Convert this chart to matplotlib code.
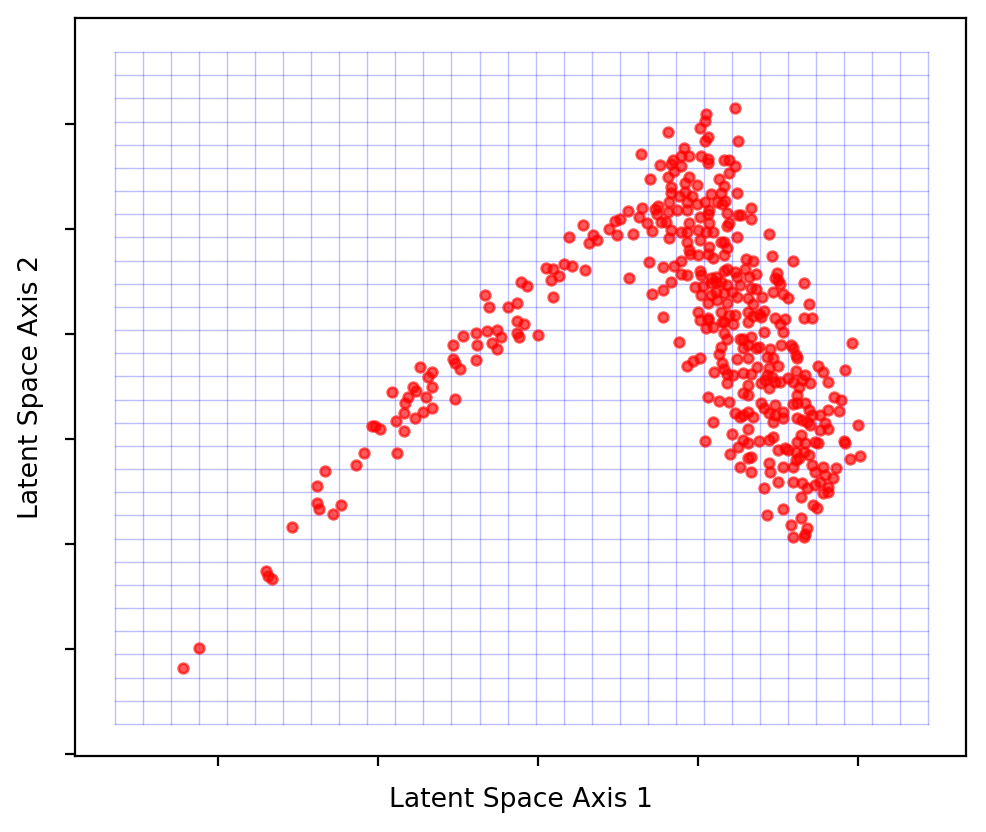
import numpy as np
import matplotlib
matplotlib.use('Agg')
import matplotlib.pyplot as plt

# latent coordinates
z1 = [-2.22, -2.12, -1.70, -1.69, -1.66, -1.54, -1.38, -1.37, -1.38, -1.33,
      -1.28, -1.23, -1.14, -1.09, -1.04, -1.02, -0.99, -0.91, -0.89, -0.88,
      -0.84, -0.84, -0.83, -0.81, -0.78, -0.77, -0.76, -0.74, -0.70, -0.69,
      -0.66, -0.66, -0.66, -0.72, -0.52, -0.53, -0.52, -0.49, -0.53, -0.47,
      -0.39, -0.39, -0.38, -0.32, -0.33, -0.31, -0.29, -0.26, -0.23, -0.26,
      -0.19, -0.13, -0.13, -0.09, -0.13, -0.12, 0.00, -0.11, -0.07, 0.05,
      0.08, 0.09, 0.13, 0.09, 0.16, 0.21, 0.29, 0.19, 0.28, 0.32,
      0.34, 0.37,
      1.23, 1.05, 1.04, 1.01, 0.81, 1.06, 1.04, 1.25, 0.91, 0.64,
      0.89, 0.94, 1.02, 1.06, 1.06, 0.84, 0.76, 0.83, 0.89, 0.85,
      1.16, 1.19, 1.23, 1.19, 0.70, 0.81, 0.94, 1.13, 0.99, 0.92,
      0.83, 1.16, 0.92, 0.83, 1.14, 1.08, 1.24, 0.88, 0.96, 0.82,
      0.93, 0.99, 1.04, 1.12, 1.17, 0.75, 0.73, 0.65, 0.56, 0.87,
      0.93, 1.07, 1.15, 0.81, 0.63, 0.51, 0.48, 0.74, 0.80, 0.77,
      0.68, 0.94, 1.01, 1.06, 1.07, 1.18, 1.19, 1.25, 0.44, 0.49,
      0.59, 0.71, 0.83, 0.89, 0.93, 1.00, 1.05, 1.09, 1.18, 0.82,
      0.93, 1.01, 1.16, 1.07, 1.14, 1.18, 0.94, 0.95, 1.00, 1.06,
      1.09, 1.16, 0.69, 0.89, 0.78, 0.85, 1.01, 1.02, 0.89, 0.93,
      1.08, 1.11, 1.16, 1.18, 1.23, 1.24, 0.57, 0.83, 0.98, 1.03,
      1.08, 1.11, 1.14, 1.18, 0.71, 0.78, 1.02, 1.08, 1.11, 1.16,
      1.21, 1.24, 1.06, 1.12, 1.18, 0.78, 1.00, 1.06, 1.14, 1.19,
      1.23,
      1.33, 1.27, 1.33, 1.44, 1.24, 1.30, 1.34, 1.46, 1.59, 1.29,
      1.36, 1.32, 1.49, 1.48, 1.50, 1.51, 1.66, 1.26, 1.33, 1.36,
      1.47, 1.53, 1.56, 1.40, 1.31, 1.34, 1.69, 1.41, 1.38, 1.31,
      1.34, 1.48, 1.54, 1.66, 1.71,
      1.01, 1.06, 1.05, 1.09, 1.15, 1.16, 1.22, 0.88, 1.16, 1.18,
      1.26, 1.14, 1.13, 0.97, 1.01, 0.93, 1.24, 1.15, 1.16, 1.10,
      1.18, 1.22, 1.18, 1.06, 1.13, 1.19, 1.23, 1.26, 1.09, 1.21,
      1.04, 1.20, 1.25, 1.26,
      1.31, 1.39, 1.51, 1.53, 1.41, 1.28, 1.33, 1.31, 1.36, 1.38,
      1.28, 1.31, 1.45, 1.43, 1.47, 1.50, 1.44, 1.37, 1.43, 1.46,
      1.52, 1.58, 1.59, 1.61, 1.62, 1.96, 1.28, 1.33, 1.39, 1.42,
      1.48, 1.44, 1.51, 1.31, 1.28, 1.31, 1.56, 1.61, 1.59, 1.65,
      1.67, 1.70, 1.75, 1.78, 1.92, 1.81, 1.63, 1.62, 1.85, 1.89,
      1.88, 1.39, 1.41, 1.48, 1.44, 1.48, 1.53, 1.53, 1.47, 1.28,
      1.34, 1.31, 1.59, 1.62, 1.67, 1.69, 1.71, 1.62, 1.65, 1.68,
      1.70, 1.76, 1.81, 1.79, 1.81, 1.76, 2.00, 1.31, 1.28, 1.31,
      1.38, 1.44, 1.47, 1.50, 1.54, 1.56, 1.62, 1.64, 1.67, 1.66,
      1.61, 1.69, 1.63, 1.73, 1.75, 1.91, 1.92, 1.95, 2.01, 1.33,
      1.31, 1.33, 1.44, 1.45, 1.53, 1.59, 1.61, 1.71, 1.73, 1.78,
      1.79, 1.86, 1.84, 1.76, 1.81, 1.78, 1.81, 1.50, 1.59, 1.65,
      1.68, 1.64, 1.73, 1.41, 1.72, 1.74, 1.53, 1.43, 1.64, 1.58,
      1.68, 1.67, 1.59, 1.66]

z2 = [-2.18, -1.99, -1.26, -1.30, -1.33, -0.84, -0.61, -0.67, -0.45, -0.30,
      -0.71, -0.63, -0.25, -0.13, 0.12, 0.12, 0.10, 0.45, 0.17, -0.13,
      0.08, 0.25, 0.34, 0.40, 0.50, 0.20, 0.46, 0.69, 0.40, 0.59,
      0.64, 0.50, 0.30, 0.26, 0.38, 0.76, 0.72, 0.67, 0.90, 0.98,
      1.01, 0.75, 0.90, 1.03, 1.37, 1.26, 0.91, 1.04, 0.97, 0.86,
      1.26, 1.30, 1.12, 1.10, 1.01, 0.97, 0.99, 1.50, 1.46, 1.63,
      1.51, 1.62, 1.55, 1.35, 1.67, 1.65, 1.61, 1.92, 2.04, 1.87,
      1.94, 1.90,
      3.15, 3.10, 3.03, 2.96, 2.92, 2.88, 2.84, 2.84, 2.77, 2.71,
      2.70, 2.70, 2.70, 2.67, 2.63, 2.66, 2.61, 2.62, 2.60, 2.55,
      2.66, 2.66, 2.60, 2.53, 2.48, 2.50, 2.50, 2.48, 2.42, 2.44,
      2.40, 2.41, 2.35, 2.34, 2.34, 2.33, 2.34, 2.31, 2.31, 2.26,
      2.26, 2.24, 2.26, 2.26, 2.27, 2.22, 2.19, 2.20, 2.17, 2.18,
      2.18, 2.18, 2.24, 2.16, 2.11, 2.10, 2.08, 2.14, 2.07, 2.07,
      2.06, 2.06, 2.11, 2.14, 2.06, 2.15, 2.06, 2.13, 2.00, 1.94,
      1.95, 1.98, 1.99, 1.97, 1.97, 1.99, 1.97, 1.97, 2.03, 1.91,
      1.88, 1.90, 1.88, 1.83, 1.88, 1.82, 1.80, 1.76, 1.75, 1.76,
      1.72, 1.75, 1.69, 1.70, 1.64, 1.65, 1.60, 1.56, 1.57, 1.56,
      1.53, 1.54, 1.60, 1.62, 1.59, 1.54, 1.53, 1.50, 1.45, 1.46,
      1.49, 1.50, 1.50, 1.47, 1.38, 1.42, 1.37, 1.37, 1.40, 1.39,
      1.40, 1.35, 1.30, 1.32, 1.30, 1.16, 1.21, 1.15, 1.21, 1.18,
      1.18,
      2.20, 2.13, 2.10, 1.95, 1.92, 1.71, 1.70, 1.74, 1.70, 1.62,
      1.57, 1.54, 1.58, 1.53, 1.51, 1.48, 1.49, 1.47, 1.44, 1.43,
      1.40, 1.38, 1.34, 1.35, 1.34, 1.29, 1.29, 1.22, 1.19, 1.21,
      1.17, 1.15, 1.14, 1.15, 1.15,
      1.13, 1.13, 1.06, 1.07, 1.11, 1.11, 1.10, 0.92, 1.01, 0.95,
      0.95, 0.88, 0.81, 0.74, 0.77, 0.70, 0.76, 0.72, 0.67, 0.64,
      0.62, 0.61, 0.53, 0.40, 0.36, 0.35, 0.25, 0.21, 0.16, 0.05,
      -0.02, -0.14, -0.08, -0.27,
      1.11, 1.16, 1.10, 1.02, 1.02, 0.95, 0.97, 0.90, 0.87, 0.88,
      0.87, 0.77, 0.86, 0.78, 0.77, 0.70, 0.68, 0.69, 0.61, 0.59,
      0.90, 0.90, 0.87, 0.80, 0.77, 0.91, 0.63, 0.62, 0.53, 0.56,
      0.54, 0.49, 0.54, 0.51, 0.44, 0.42, 0.58, 0.65, 0.54, 0.56,
      0.61, 0.53, 0.70, 0.64, 0.66, 0.54, 0.50, 0.42, 0.40, 0.37,
      0.27, 0.34, 0.30, 0.32, 0.25, 0.23, 0.26, 0.20, 0.16, 0.23,
      0.21, 0.26, 0.33, 0.34, 0.34, 0.28, 0.23, 0.20, 0.18, 0.16,
      0.13, 0.23, 0.28, 0.15, 0.10, 0.09, 0.13, 0.10, -0.01, -0.04,
      -0.02, -0.01, 0.02, -0.10, -0.09, -0.10, -0.03, 0.04, -0.04, -0.12,
      -0.12, -0.15, -0.18, -0.03, -0.04, -0.02, -0.04, -0.19, -0.16, -0.17,
      -0.18, -0.31, -0.23, -0.31, -0.27, -0.27, -0.20, -0.25, -0.31, -0.27,
      -0.34, -0.28, -0.37, -0.41, -0.46, -0.51, -0.50, -0.41, -0.41, -0.42,
      -0.47, -0.55, -0.44, -0.47, -0.63, -0.66, -0.67, -0.72, -0.75, -0.82,
      -0.85, -0.90, -0.93, -0.93]

# extent of the sampling grid drawn behind the points
n_grid = 30
grid_x = (-2.644, 2.4375)
grid_y = (-2.714, 3.686)

fig = plt.figure(figsize=(4.93, 4.16), dpi=200)
ax = fig.add_axes([0.076, 0.0913, 0.904, 0.8871])

gx = np.linspace(grid_x[0], grid_x[1], n_grid)
gy = np.linspace(grid_y[0], grid_y[1], n_grid)
for v in gx:
    ax.plot([v, v], [gy[0], gy[-1]], color='blue', alpha=0.25, lw=0.5)
for h in gy:
    ax.plot([gx[0], gx[-1]], [h, h], color='blue', alpha=0.25, lw=0.5)

ax.scatter(z1, z2, c='red', s=12, alpha=0.65, zorder=3)

ax.set_xlim(-2.894, 2.675)
ax.set_ylim(-3.019, 4.010)
ax.set_xticks([-2, -1, 0, 1, 2])
ax.set_yticks([-3, -2, -1, 0, 1, 2, 3])
ax.set_xticklabels([])
ax.set_yticklabels([])
ax.set_xlabel('Latent Space Axis 1', fontsize=9.6)
ax.set_ylabel('Latent Space Axis 2', fontsize=9.6)

fig.savefig('out.png', dpi=200)
